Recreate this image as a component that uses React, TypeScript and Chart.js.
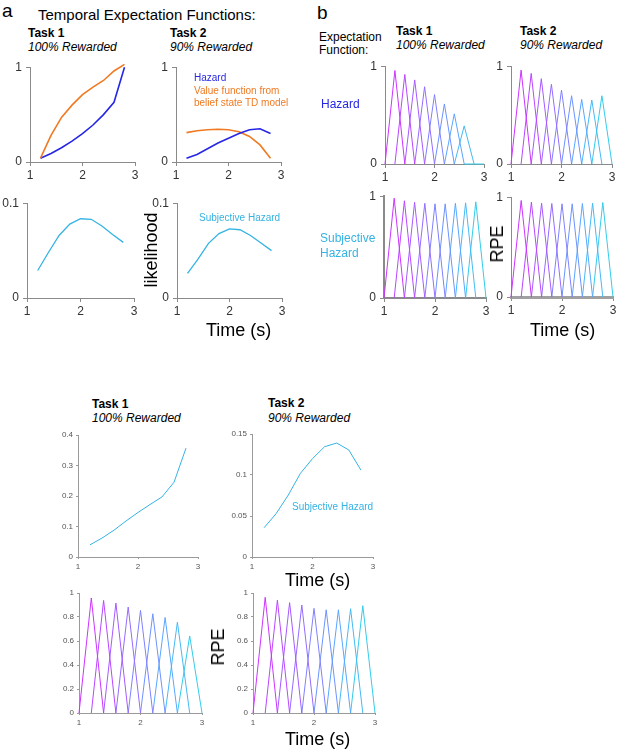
import React, { useEffect, useRef } from "react";
import { Chart, registerables } from "chart.js";
Chart.register(...registerables);

const FONT = "'Liberation Sans', Arial, Helvetica, sans-serif";

// ---------- data ----------
const times = [1.2, 1.4, 1.6, 1.8, 2.0, 2.2, 2.4, 2.6, 2.8];
const xTickValues = [1, 2, 3];
const kernelHalfWidth = 0.2;

// panel a (top)
const task1Hazard = [0.04, 0.09, 0.15, 0.22, 0.3, 0.39, 0.5, 0.63, 1.0];
const task1Value = [0.04, 0.28, 0.47, 0.6, 0.71, 0.79, 0.86, 0.96, 1.03];
const task2Hazard = [0.04, 0.08, 0.14, 0.2, 0.25, 0.3, 0.34, 0.35, 0.3];
const task2Value = [0.31, 0.33, 0.34, 0.345, 0.34, 0.32, 0.27, 0.18, 0.04];
const task1SubjLikelihood = [0.029, 0.048, 0.066, 0.078, 0.0836, 0.083, 0.076, 0.067, 0.0587];
const task2SubjLikelihood = [0.026, 0.041, 0.0576, 0.068, 0.073, 0.072, 0.066, 0.058, 0.05];

// panel b (top right) RPE peaks
const hazardRpeTask1 = [0.956, 0.916, 0.86, 0.79, 0.71, 0.614, 0.513, 0.39, 0];
const hazardRpeTask2 = [0.96, 0.926, 0.872, 0.815, 0.755, 0.698, 0.66, 0.654, 0.698];
const subjRpeTask1 = [0.98, 0.955, 0.94, 0.93, 0.925, 0.925, 0.93, 0.935, 0.945];
const subjRpeTask2 = [0.967, 0.95, 0.94, 0.937, 0.934, 0.934, 0.937, 0.94, 0.947];

// bottom panels
const task1SubjHazardBottom = [0.04, 0.062, 0.088, 0.118, 0.146, 0.172, 0.197, 0.245, 0.357];
const task2SubjHazardBottom = [0.0357, 0.053, 0.0756, 0.102, 0.12, 0.1345, 0.139, 0.1305, 0.106];
const task1RpeBottom = [0.958, 0.938, 0.916, 0.883, 0.855, 0.827, 0.796, 0.757, 0.642];
const task2RpeBottom = [0.964, 0.94, 0.92, 0.9, 0.872, 0.86, 0.86, 0.869, 0.894];

// y tick values
const yTicksUnit = [0, 1];
const yTicksLikelihood = [0, 0.1];
const yTicksBottomTask1 = [0, 0.1, 0.2, 0.3, 0.4];
const yTicksBottomTask2 = [0, 0.05, 0.1, 0.15];
const yTicksBottomRpe = [0, 0.2, 0.4, 0.6, 0.8, 1];

// ---------- styles ----------
const BLUE = "#2626e6";
const ORANGE = "#f07a22";
const CYAN = "#35b3e3";
const COOL = [
  "rgb(204,51,255)", "rgb(185,70,255)", "rgb(166,89,255)", "rgb(147,108,255)",
  "rgb(128,128,255)", "rgb(108,147,255)", "rgb(89,166,255)", "rgb(70,185,245)", "rgb(51,204,235)",
];

function series(vals: number[], color: string, width: number) {
  return {
    data: times.map((t, i) => ({ x: t, y: vals[i] })),
    borderColor: color,
    borderWidth: width,
    clip: false as any,
  };
}

function triangles(peaks: number[]) {
  return peaks.map((h, i) => ({
    data: [
      { x: times[i] - kernelHalfWidth, y: 0 },
      { x: times[i], y: h },
      { x: times[i] + kernelHalfWidth, y: 0 },
    ],
    borderColor: COOL[i],
    borderWidth: 1,
    clip: false as any,
  }));
}

type Box = { x0: number; x1: number; yTop: number; yBot: number };
type Style = {
  tickFont: number;
  tickColor: string;
  axisColor: string;
  tickLen: number;
  xPad: number;
  yPad: number;
};

const bigStyle: Style = { tickFont: 12, tickColor: "#333", axisColor: "#8a8a8a", tickLen: 4, xPad: 2, yPad: 4 };
const smallStyle: Style = { tickFont: 8, tickColor: "#555", axisColor: "#9a9a9a", tickLen: 2, xPad: 3, yPad: 3 };

function fmt(v: number) {
  return String(Number(v.toFixed(3)));
}

function Panel(props: {
  box: Box;
  yMax: number;
  yTicks: number[];
  datasets: any[];
  st: Style;
  xBorder?: number;
  yBorder?: number;
  xBorderColor?: string;
}) {
  const ref = useRef<HTMLCanvasElement>(null);
  const { box, st } = props;
  const YW = 34, XH = 22, PT = 10, PR = 12;
  const w = box.x1 - box.x0 + YW + PR;
  const h = box.yBot - box.yTop + PT + XH;
  useEffect(() => {
    const chart = new Chart(ref.current as HTMLCanvasElement, {
      type: "line",
      data: { datasets: props.datasets },
      options: {
        responsive: false,
        animation: false,
        devicePixelRatio: 1,
        layout: { padding: { left: 0, top: PT, right: PR, bottom: 0 } },
        plugins: { legend: { display: false }, tooltip: { enabled: false } },
        elements: { point: { radius: 0 }, line: { tension: 0 } },
        scales: {
          x: {
            type: "linear",
            min: 1,
            max: 3,
            afterBuildTicks: (s: any) => {
              s.ticks = xTickValues.map((v) => ({ value: v }));
            },
            afterFit: (s: any) => {
              s.height = XH;
            },
            ticks: {
              font: { family: FONT, size: st.tickFont },
              color: st.tickColor,
              padding: st.xPad,
              maxRotation: 0,
              autoSkip: false,
              callback: (v: any) => fmt(Number(v)),
            },
            grid: { display: true, drawOnChartArea: false, drawTicks: true, tickLength: st.tickLen, color: st.axisColor },
            border: { display: true, color: props.xBorderColor || st.axisColor, width: props.xBorder || 1 },
          },
          y: {
            type: "linear",
            min: 0,
            max: props.yMax,
            afterBuildTicks: (s: any) => {
              s.ticks = props.yTicks.map((v) => ({ value: v }));
            },
            afterFit: (s: any) => {
              s.width = YW;
            },
            ticks: {
              font: { family: FONT, size: st.tickFont },
              color: st.tickColor,
              padding: st.yPad,
              autoSkip: false,
              callback: (v: any) => fmt(Number(v)),
            },
            grid: { display: true, drawOnChartArea: false, drawTicks: true, tickLength: st.tickLen, color: st.axisColor },
            border: { display: true, color: st.axisColor, width: props.yBorder || 1 },
          },
        },
      } as any,
    });
    return () => chart.destroy();
  }, []);
  return (
    <canvas
      ref={ref}
      width={w}
      height={h}
      style={{ position: "absolute", left: box.x0 - YW, top: box.yTop - PT, width: w, height: h }}
    />
  );
}

function Txt(props: {
  x: number;
  cy: number;
  size: number;
  children: React.ReactNode;
  color?: string;
  bold?: boolean;
  italic?: boolean;
}) {
  return (
    <div
      style={{
        position: "absolute",
        left: props.x,
        top: props.cy - props.size / 2,
        fontFamily: FONT,
        fontSize: props.size,
        lineHeight: `${props.size}px`,
        color: props.color || "#000",
        fontWeight: props.bold ? "bold" : "normal",
        fontStyle: props.italic ? "italic" : "normal",
        whiteSpace: "nowrap",
      }}
    >
      {props.children}
    </div>
  );
}

function VTxt(props: { cx: number; cy: number; size: number; children: React.ReactNode }) {
  return (
    <div
      style={{
        position: "absolute",
        left: props.cx,
        top: props.cy,
        transform: "translate(-50%, -50%) rotate(-90deg)",
        fontFamily: FONT,
        fontSize: props.size,
        lineHeight: `${props.size}px`,
        color: "#000",
        whiteSpace: "nowrap",
      }}
    >
      {props.children}
    </div>
  );
}

export default function App() {
  return (
    <div
      style={{
        position: "absolute",
        left: 0,
        top: 0,
        width: 617,
        height: 750,
        overflow: "hidden",
        background: "#fff",
      }}
    >
      {/* ---------- panel a ---------- */}
      <Txt x={2} cy={10} size={19}>a</Txt>
      <Txt x={38} cy={14} size={15}>Temporal Expectation Functions:</Txt>
      <Txt x={28} cy={33} size={12} bold>Task 1</Txt>
      <Txt x={28} cy={47} size={12} italic>100% Rewarded</Txt>
      <Txt x={170} cy={33} size={12} bold>Task 2</Txt>
      <Txt x={170} cy={47} size={12} italic>90% Rewarded</Txt>

      <Panel
        box={{ x0: 30, x1: 135, yTop: 66, yBot: 162 }}
        yMax={1}
        yTicks={yTicksUnit}
        st={bigStyle}
        datasets={[series(task1Value, ORANGE, 1.6), series(task1Hazard, BLUE, 1.6)]}
      />
      <Panel
        box={{ x0: 176, x1: 281, yTop: 66, yBot: 162 }}
        yMax={1}
        yTicks={yTicksUnit}
        st={bigStyle}
        datasets={[series(task2Hazard, BLUE, 1.6), series(task2Value, ORANGE, 1.6)]}
      />
      <Txt x={194} cy={78} size={10} color={BLUE}>Hazard</Txt>
      <Txt x={194} cy={91} size={10} color={ORANGE}>Value function from</Txt>
      <Txt x={194} cy={103} size={10} color={ORANGE}>belief state TD model</Txt>

      <Panel
        box={{ x0: 27, x1: 134, yTop: 202, yBot: 298 }}
        yMax={0.1}
        yTicks={yTicksLikelihood}
        st={bigStyle}
        datasets={[series(task1SubjLikelihood, CYAN, 1.3)]}
      />
      <Panel
        box={{ x0: 177, x1: 282, yTop: 202, yBot: 298 }}
        yMax={0.1}
        yTicks={yTicksLikelihood}
        st={bigStyle}
        datasets={[series(task2SubjLikelihood, CYAN, 1.3)]}
      />
      <Txt x={199} cy={218} size={10} color={CYAN}>Subjective Hazard</Txt>
      <VTxt cx={151} cy={250} size={18}>likelihood</VTxt>
      <Txt x={206} cy={330} size={18}>Time (s)</Txt>

      {/* ---------- panel b ---------- */}
      <Txt x={317} cy={12} size={19}>b</Txt>
      <Txt x={319} cy={37} size={12}>Expectation</Txt>
      <Txt x={319} cy={50} size={12}>Function:</Txt>
      <Txt x={396} cy={31} size={12} bold>Task 1</Txt>
      <Txt x={396} cy={45} size={12} italic>100% Rewarded</Txt>
      <Txt x={520} cy={31} size={12} bold>Task 2</Txt>
      <Txt x={520} cy={45} size={12} italic>90% Rewarded</Txt>
      <Txt x={321} cy={104} size={12} color={BLUE}>Hazard</Txt>
      <Txt x={320} cy={238} size={12} color={CYAN}>Subjective</Txt>
      <Txt x={320} cy={253} size={12} color={CYAN}>Hazard</Txt>

      <Panel
        box={{ x0: 385, x1: 484, yTop: 65, yBot: 164 }}
        yMax={1}
        yTicks={yTicksUnit}
        st={bigStyle}
        datasets={triangles(hazardRpeTask1)}
      />
      <Panel
        box={{ x0: 511, x1: 612, yTop: 65, yBot: 164 }}
        yMax={1}
        yTicks={yTicksUnit}
        st={bigStyle}
        datasets={triangles(hazardRpeTask2)}
      />
      <Panel
        box={{ x0: 384, x1: 486, yTop: 195, yBot: 298 }}
        yMax={1}
        yTicks={yTicksUnit}
        st={bigStyle}
        xBorder={2}
        yBorder={2}
        datasets={triangles(subjRpeTask1)}
      />
      <Panel
        box={{ x0: 511, x1: 613, yTop: 196, yBot: 297 }}
        yMax={1}
        yTicks={yTicksUnit}
        st={bigStyle}
        xBorder={3}
        xBorderColor="#a0a0a0"
        datasets={triangles(subjRpeTask2)}
      />
      <VTxt cx={497} cy={244} size={18}>RPE</VTxt>
      <Txt x={530} cy={330} size={18}>Time (s)</Txt>

      {/* ---------- bottom panels ---------- */}
      <Txt x={92} cy={404} size={12} bold>Task 1</Txt>
      <Txt x={92} cy={418} size={12} italic>100% Rewarded</Txt>
      <Txt x={268} cy={403} size={12} bold>Task 2</Txt>
      <Txt x={268} cy={418} size={12} italic>90% Rewarded</Txt>

      <Panel
        box={{ x0: 78, x1: 198, yTop: 435, yBot: 557 }}
        yMax={0.4}
        yTicks={yTicksBottomTask1}
        st={smallStyle}
        datasets={[series(task1SubjHazardBottom, CYAN, 1)]}
      />
      <Panel
        box={{ x0: 252, x1: 373, yTop: 434, yBot: 557 }}
        yMax={0.15}
        yTicks={yTicksBottomTask2}
        st={smallStyle}
        datasets={[series(task2SubjHazardBottom, CYAN, 1)]}
      />
      <Txt x={292} cy={507} size={10} color={CYAN}>Subjective Hazard</Txt>
      <Txt x={285} cy={580} size={18}>Time (s)</Txt>

      <Panel
        box={{ x0: 79, x1: 202, yTop: 593, yBot: 713 }}
        yMax={1}
        yTicks={yTicksBottomRpe}
        st={smallStyle}
        datasets={triangles(task1RpeBottom)}
      />
      <Panel
        box={{ x0: 253, x1: 375, yTop: 593, yBot: 713 }}
        yMax={1}
        yTicks={yTicksBottomRpe}
        st={smallStyle}
        datasets={triangles(task2RpeBottom)}
      />
      <VTxt cx={218} cy={647} size={18}>RPE</VTxt>
      <Txt x={285} cy={739} size={18}>Time (s)</Txt>
    </div>
  );
}
